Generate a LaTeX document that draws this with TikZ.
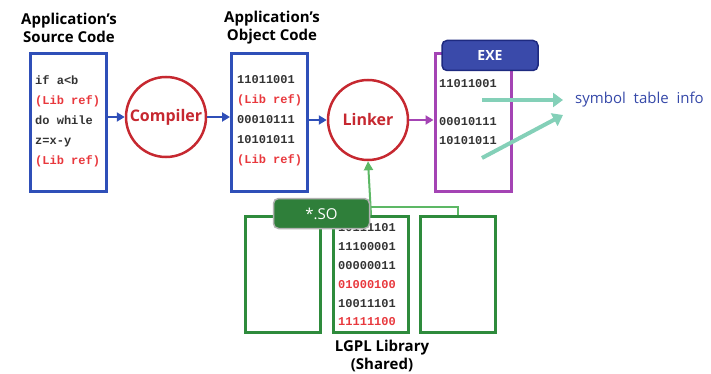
\documentclass[tikz,border=0pt]{standalone}
\usepackage{fontspec}
\setmainfont{Open Sans}
\setmonofont{Liberation Mono}
\usetikzlibrary{arrows.meta,positioning}

\definecolor{boxblue}{HTML}{2F4FB8}
\definecolor{circred}{HTML}{C62830}
\definecolor{refred}{HTML}{E8383D}
\definecolor{exepurple}{HTML}{A444B4}
\definecolor{exefill}{HTML}{3A4AAA}
\definecolor{exeedge}{HTML}{1E2A80}
\definecolor{libgreen}{HTML}{2E8B3C}
\definecolor{sofill}{HTML}{2F7F3A}
\definecolor{linkgreen}{HTML}{5DB865}
\definecolor{symteal}{HTML}{84D0B8}
\definecolor{symblue}{HTML}{3548A8}
\definecolor{codegray}{HTML}{333333}

\begin{document}
\begin{tikzpicture}[x=1pt, y=-1pt,
	codebox/.style={draw=#1, line width=3pt, minimum width=76pt, minimum height=138pt, inner sep=0pt},
	libbox/.style={draw=libgreen, line width=3pt, minimum width=75pt, minimum height=116pt, inner sep=0pt},
	tool/.style={circle, draw=circred, line width=2.5pt, text=circred, minimum size=80pt, inner sep=0pt,
		font=\bfseries\fontsize{16}{18}\selectfont},
	code/.style={anchor=west, align=left, inner sep=0pt, text=codegray,
		font=\ttfamily\bfseries\fontsize{12}{#1}\selectfont},
	heading/.style={align=center, inner sep=0pt, font=\bfseries\fontsize{15}{18}\selectfont},
	tag/.style={rounded corners=5pt, line width=1.5pt, minimum width=96pt, minimum height=30pt, text=white}]
	\useasboundingbox (0, 0) rectangle (711, 374);

	\node[codebox=boxblue] (src) at (68.5, 122.5) {};
	\node[codebox=boxblue] (obj) at (269.5, 122.5) {};
	\node[codebox=exepurple] (exe) at (473, 122.5) {};
	\node[tool] (comp) at (166, 117) {Compiler};
	\node[tool] (link) at (368, 120) {Linker};

	\node[heading] (srctitle) at (69, 28) {Application’s\\Source Code};
	\node[heading] (objtitle) at (272, 28) {Application’s\\Object Code};

	\node[code=20] (srctext) at (35, 121) {if a<b\\\textcolor{refred}{(Lib ref)}\\do while\\z=x-y\\\textcolor{refred}{(Lib ref)}};
	\node[code=20] (objtext) at (237, 121) {11011001\\\textcolor{refred}{(Lib ref)}\\00010111\\10101011\\\textcolor{refred}{(Lib ref)}};
	\node[code=19.3] (exetext) at (439, 112) {11011001\\~\\00010111\\10101011};

	\node[libbox] (lib1) at (283, 274.5) {};
	\node[libbox] (lib2) at (371, 274.5) {};
	\node[libbox] (lib3) at (457.5, 274.5) {};
	\node[code=18.8] (libtext) at (338, 275) {10111101\\11100001\\00000011\\\textcolor{refred}{01000100}\\10011101\\\textcolor{refred}{11111100}};
	\node[heading] (libtitle) at (382, 356) {LGPL Library\\(Shared)};

	\draw[boxblue, line width=2.5pt, -{Triangle[length=8pt,width=9pt]}] (src.east |- comp) -- (comp.west);
	\draw[boxblue, line width=2.5pt, -{Triangle[length=8pt,width=9pt]}] (comp.east) -- (obj.west |- comp);
	\draw[boxblue, line width=2.5pt, -{Triangle[length=8pt,width=9pt]}] (obj.east |- link) -- (link.west);
	\draw[exepurple, line width=2.5pt, -{Triangle[length=8pt,width=9pt]}] (link.east) -- (exe.west |- link);

	\draw[linkgreen, line width=2pt] (lib1.north) -- ++(0, -8) -| (lib3.north);
	\draw[linkgreen, line width=2pt, -{Triangle[length=9pt,width=9pt]}] (lib2.north) -- (link.south);

	\node[tag, draw=exeedge, fill=exefill, font=\bfseries\fontsize{14}{16}\selectfont] (exetag) at (490, 55.5) {EXE};
	\node[tag, draw=black!30, fill=sofill, font=\fontsize{15}{16}\selectfont] (sotag) at (321.5, 213.5) {*.SO};

	\node[anchor=west, inner sep=0pt, text=symblue, font=\fontsize{15}{16}\selectfont] (sym) at (575, 100) {symbol\ \ table\ \ info};
	\coordinate (from1) at (482, 100);
	\coordinate (from2) at (482, 158);
	\coordinate (to1) at (563, 100);
	\coordinate (to2) at (563, 115);
	\draw[symteal, line width=4pt, -{Triangle[length=10pt,width=14pt]}] (from1) -- (to1);
	\draw[symteal, line width=4pt, -{Triangle[length=10pt,width=14pt]}] (from2) -- (to2);
\end{tikzpicture}
\end{document}
